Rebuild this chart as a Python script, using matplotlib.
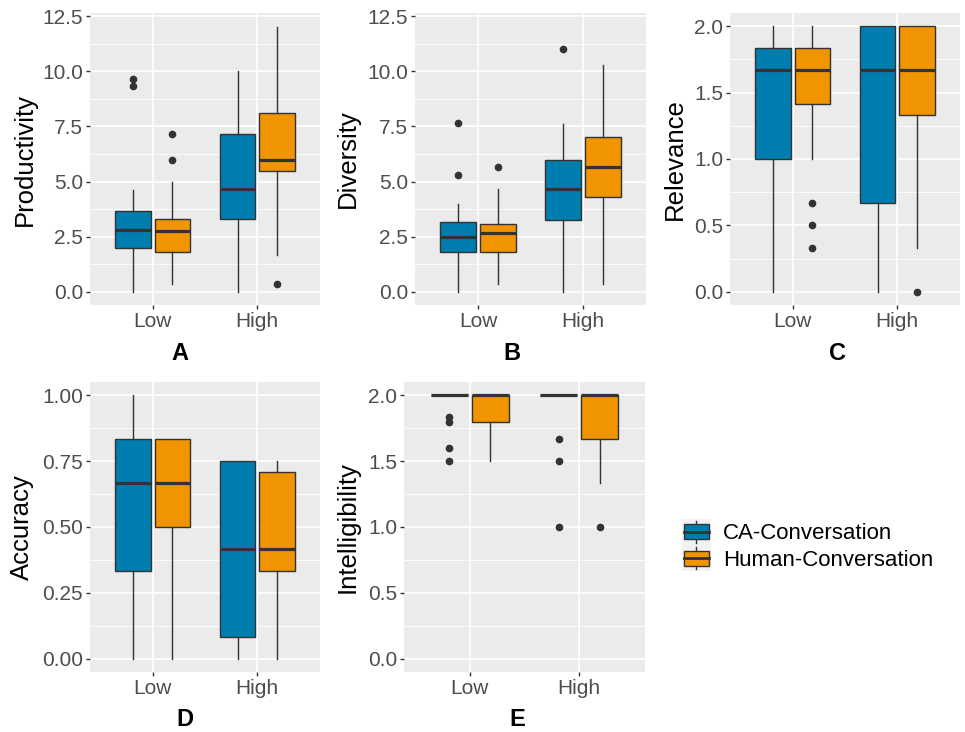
import matplotlib
matplotlib.use("Agg")
import matplotlib.pyplot as plt
from matplotlib.patches import Patch, Rectangle
from matplotlib.lines import Line2D
from matplotlib.legend_handler import HandlerBase
from matplotlib.ticker import MultipleLocator

plt.rcParams['font.family'] = ['Liberation Sans', 'DejaVu Sans']

# groups on the x axis and the two conversation types
levels = ["Low", "High"]
series = ["CA-Conversation", "Human-Conversation"]
colors = ["#007DAF", "#F09400"]
panel_letters = ["A", "B", "C", "D", "E"]
metrics = ["Productivity", "Diversity", "Relevance", "Accuracy", "Intelligibility"]

# box summaries per level: (whislo, q1, median, q3, whishi, outliers)
productivity_ca = [(0.0, 2.0, 2.83, 3.66, 4.64, [9.32, 9.67]),
                   (0.0, 3.32, 4.67, 7.16, 10.0, [])]
productivity_human = [(0.35, 1.82, 2.76, 3.29, 5.0, [6.0, 7.16]),
                      (1.67, 5.49, 6.0, 8.13, 12.0, [0.35])]
diversity_ca = [(0.0, 1.82, 2.5, 3.18, 3.98, [5.32, 7.67]),
                (0.0, 3.24, 4.67, 5.97, 7.63, [11.0])]
diversity_human = [(0.35, 1.82, 2.68, 3.1, 4.66, [5.65]),
                   (0.35, 4.31, 5.64, 7.0, 10.3, [])]
relevance_ca = [(0.0, 1.0, 1.667, 1.833, 2.0, []),
                (0.0, 0.667, 1.667, 2.0, 2.0, [])]
relevance_human = [(1.0, 1.417, 1.667, 1.833, 2.0, [0.333, 0.5, 0.667]),
                   (0.333, 1.333, 1.667, 2.0, 2.0, [0.0])]
accuracy_ca = [(0.0, 0.333, 0.667, 0.833, 1.0, []),
               (0.0, 0.083, 0.417, 0.75, 0.75, [])]
accuracy_human = [(0.0, 0.5, 0.667, 0.833, 0.833, []),
                  (0.0, 0.333, 0.417, 0.708, 0.75, [])]
intelligibility_ca = [(2.0, 2.0, 2.0, 2.0, 2.0, [1.5, 1.6, 1.8, 1.833]),
                      (2.0, 2.0, 2.0, 2.0, 2.0, [1.0, 1.5, 1.667])]
intelligibility_human = [(1.5, 1.8, 2.0, 2.0, 2.0, []),
                         (1.333, 1.667, 2.0, 2.0, 2.0, [1.0])]

panel_data = [(productivity_ca, productivity_human),
              (diversity_ca, diversity_human),
              (relevance_ca, relevance_human),
              (accuracy_ca, accuracy_human),
              (intelligibility_ca, intelligibility_human)]
y_ticks = [[0, 2.5, 5.0, 7.5, 10.0, 12.5],
           [0, 2.5, 5.0, 7.5, 10.0, 12.5],
           [0, 0.5, 1.0, 1.5, 2.0],
           [0, 0.25, 0.5, 0.75, 1.0],
           [0, 0.5, 1.0, 1.5, 2.0]]
y_tick_labels = [["0.0", "2.5", "5.0", "7.5", "10.0", "12.5"],
                 ["0.0", "2.5", "5.0", "7.5", "10.0", "12.5"],
                 ["0.0", "0.5", "1.0", "1.5", "2.0"],
                 ["0.00", "0.25", "0.50", "0.75", "1.00"],
                 ["0.0", "0.5", "1.0", "1.5", "2.0"]]
y_limits = [(-0.59, 12.64), (-0.59, 12.64), (-0.1, 2.1), (-0.05, 1.05), (-0.1, 2.1)]

W, H = 965, 732
# panel rectangles in pixels: left, top, right, bottom
panel_px = [(90, 13, 320, 305), (415, 13, 646, 305), (730, 13, 960, 305),
            (90, 382, 320, 672), (404, 382, 645, 672)]
ylabel_x_px = [25, 348, 675, 22, 348]
letter_px = [(180, 354), (512, 354), (837, 354), (185, 720), (517, 720)]

DARK = "#333333"
TICK_TXT = "#4D4D4D"


def to_stats(rows):
    out = []
    for lo, q1, med, q3, hi, fl in rows:
        out.append(dict(whislo=lo, q1=q1, med=med, q3=q3, whishi=hi, fliers=fl))
    return out


fig = plt.figure(figsize=(W / 100, H / 100), dpi=100)

offset = 0.1875
box_w = 0.34
for i, (ca_rows, hu_rows) in enumerate(panel_data):
    l, t, r, b = panel_px[i]
    ax = fig.add_axes([l / W, 1 - b / H, (r - l) / W, (b - t) / H])
    ax.set_facecolor("#EBEBEB")
    for s in ax.spines.values():
        s.set_visible(False)

    for j, rows in enumerate([ca_rows, hu_rows]):
        pos = [k + 1 + (offset if j else -offset) for k in range(len(levels))]
        ax.bxp(to_stats(rows), positions=pos, widths=box_w, patch_artist=True,
               showcaps=False, manage_ticks=False,
               boxprops=dict(facecolor=colors[j], edgecolor=DARK, linewidth=1.0),
               whiskerprops=dict(color=DARK, linewidth=1.0),
               medianprops=dict(color=DARK, linewidth=2.3, solid_capstyle='butt'),
               flierprops=dict(marker='o', markerfacecolor=DARK, markeredgecolor=DARK,
                               markersize=4.5, linestyle='none'))

    ax.set_xlim(0.4, 2.6)
    ax.set_ylim(*y_limits[i])
    ax.set_xticks([1, 2])
    ax.set_xticklabels(levels)
    ax.set_yticks(y_ticks[i])
    ax.set_yticklabels(y_tick_labels[i])
    step = y_ticks[i][1] - y_ticks[i][0]
    ax.yaxis.set_minor_locator(MultipleLocator(step / 2))
    ax.grid(which='major', color='white', linewidth=1.2)
    ax.grid(which='minor', axis='y', color='white', linewidth=0.6)
    ax.set_axisbelow(True)
    ax.tick_params(which='major', length=3, width=1, color=DARK, labelcolor=TICK_TXT,
                   labelsize=15, pad=2)
    ax.tick_params(which='minor', length=0)

    ax.set_ylabel(metrics[i], fontsize=18.5, color='black')
    ax.yaxis.set_label_coords((ylabel_x_px[i] - l) / (r - l), 0.5)
    ax.yaxis.label.set_va('center')

    lx, ly = letter_px[i]
    fig.text(lx / W, 1 - ly / H, panel_letters[i], fontsize=17, fontweight='bold',
             ha='center', va='center')


class BoxKeyHandler(HandlerBase):
    def create_artists(self, legend, orig_handle, xdescent, ydescent, width, height,
                       fontsize, trans):
        x0, y0 = -xdescent, -ydescent
        bg = Rectangle((x0, y0), width, height, facecolor="#F2F2F2", edgecolor='none',
                       transform=trans)
        cx = x0 + width / 2
        whisk = Line2D([cx, cx], [y0 + height * 0.08, y0 + height * 0.92], color=DARK,
                       linewidth=1.0, transform=trans)
        box = Rectangle((x0 + width * 0.06, y0 + height * 0.22), width * 0.88, height * 0.56,
                        facecolor=orig_handle.get_facecolor(), edgecolor=DARK,
                        linewidth=1.0, transform=trans)
        med = Line2D([x0 + width * 0.06, x0 + width * 0.94],
                     [y0 + height / 2, y0 + height / 2], color=DARK, linewidth=2.0,
                     transform=trans)
        return [bg, whisk, box, med]


handles = [Patch(facecolor=c) for c in colors]
fig.legend(handles, series, handler_map={Patch: BoxKeyHandler()},
           loc='center left', bbox_to_anchor=(682 / W, 1 - 545 / H), frameon=False,
           fontsize=16, handlelength=1.3, handleheight=1.45, handletextpad=0.55,
           labelspacing=0.0, borderpad=0.0, borderaxespad=0.0)

fig.savefig("out.png", dpi=100, facecolor='white')
